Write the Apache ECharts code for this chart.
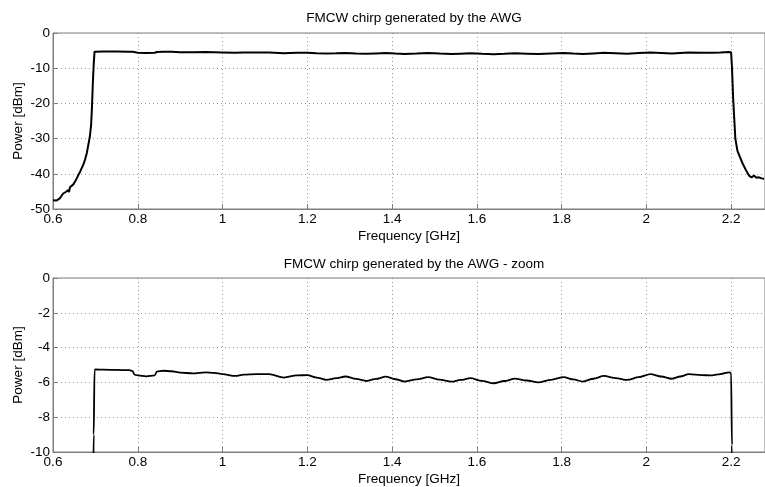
<!DOCTYPE html>
<html>
<head>
<meta charset="utf-8">
<script src="https://cdn.jsdelivr.net/npm/echarts@6/dist/echarts.min.js"></script>
<style>html,body{margin:0;padding:0;background:#fff}#c{width:765px;height:487px}</style>
</head>
<body>
<div id="c"></div>
<script>
const titles = ['FMCW chirp generated by the AWG', 'FMCW chirp generated by the AWG - zoom'];
const xLabel = 'Frequency [GHz]';
const yLabel = 'Power [dBm]';
const freq = [
0.600,0.604,0.608,0.612,0.616,0.620,0.624,0.628,0.631,0.634,0.636,0.638,0.640,0.644,0.648,0.652,0.656,0.660,0.664,0.668,0.672,0.676,0.680,0.683,0.687,0.690,0.692,0.694,0.696,0.698,
0.700,0.720,0.750,0.780,0.788,0.792,0.800,0.820,0.840,0.845,0.860,0.880,0.900,0.930,0.960,0.980,1.000,1.030,1.050,1.080,1.110,1.145,1.175,1.200,
1.222,1.245,1.268,1.290,1.315,1.340,1.362,1.385,1.408,1.430,1.458,1.485,1.512,1.540,1.562,1.585,1.612,1.640,1.665,1.690,1.718,1.745,1.775,1.805,1.828,1.850,1.875,1.900,1.928,1.955,1.982,2.010,2.035,2.060,2.080,2.100,2.130,2.155,2.175,2.195,2.200,
2.202,2.205,2.210,2.215,2.220,2.227,2.233,2.238,2.243,2.248,2.254,2.260,2.266,2.272,2.278
];
const power = [
-47.5,-47.9,-47.6,-47.9,-47.0,-46.3,-45.6,-46.0,-45.1,-45.4,-44.6,-45.2,-43.8,-43.4,-43.0,-42.2,-41.3,-40.3,-39.4,-38.3,-37.3,-35.8,-34.0,-32.0,-29.4,-26.0,-21.0,-14.3,-9.0,-5.3,
-5.25,-5.27,-5.28,-5.30,-5.35,-5.55,-5.60,-5.65,-5.60,-5.38,-5.33,-5.36,-5.44,-5.48,-5.42,-5.45,-5.52,-5.63,-5.55,-5.52,-5.53,-5.72,-5.60,-5.58,
-5.72,-5.85,-5.76,-5.66,-5.80,-5.92,-5.80,-5.67,-5.82,-5.95,-5.83,-5.70,-5.84,-5.96,-5.86,-5.76,-5.91,-6.05,-5.92,-5.78,-5.89,-6.00,-5.85,-5.70,-5.83,-5.95,-5.79,-5.63,-5.75,-5.86,-5.70,-5.53,-5.66,-5.79,-5.66,-5.53,-5.58,-5.60,-5.52,-5.42,-5.45,
-9.6,-19.0,-30.0,-33.5,-35.0,-37.0,-38.5,-39.6,-40.6,-41.0,-40.5,-41.1,-41.0,-41.3,-41.4
];
const yTicks1 = [-50, 0, 10];
const yTicks2 = [-10, 0, 2];
const xTicks = [0.6, 2.28, 0.2];

const data = freq.map((f, i) => [f, power[i]]);
const font = 'Liberation Sans, Arial, sans-serif';
const fs = 13.5;
const chart = echarts.init(document.getElementById('c'), null, {renderer: 'canvas'});
function xAx(gi) {
  return {
    type: 'value', gridIndex: gi, min: xTicks[0], max: xTicks[1], interval: xTicks[2],
    name: xLabel, nameLocation: 'middle', nameGap: 20, nameMoveOverlap: false,
    nameTextStyle: {color: '#000', fontFamily: font, fontSize: fs},
    axisLine: {show: true, onZero: false, lineStyle: {color: '#7f7f7f'}},
    axisTick: {show: true, inside: true, length: 5, lineStyle: {color: '#7f7f7f'}},
    axisLabel: {color: '#000', fontFamily: font, fontSize: fs, margin: 3, showMaxLabel: false},
    splitLine: {show: true, lineStyle: {color: '#9a9a9a', type: [1, 3], width: 1}}
  };
}
function yAx(gi, t) {
  return {
    type: 'value', gridIndex: gi, min: t[0], max: t[1], interval: t[2],
    name: yLabel, nameLocation: 'middle', nameGap: 28, nameMoveOverlap: false,
    nameTextStyle: {color: '#000', fontFamily: font, fontSize: fs},
    axisLine: {show: true, lineStyle: {color: '#7f7f7f'}},
    axisTick: {show: true, inside: true, length: 5, lineStyle: {color: '#7f7f7f'}},
    axisLabel: {color: '#000', fontFamily: font, fontSize: fs, margin: 3},
    splitLine: {show: true, lineStyle: {color: '#9a9a9a', type: [1, 3], width: 1}}
  };
}
chart.setOption({
  backgroundColor: '#fff',
  animation: false,
  title: [
    {text: titles[0], left: 409, top: 6, textAlign: 'center', textStyle: {fontFamily: font, fontSize: fs, fontWeight: 'normal', color: '#000'}},
    {text: titles[1], left: 409, top: 252, textAlign: 'center', textStyle: {fontFamily: font, fontSize: fs, fontWeight: 'normal', color: '#000'}}
  ],
  grid: [
    {left: 53, top: 33, right: 0, height: 176, show: true, borderColor: '#7f7f7f', borderWidth: 1, containLabel: false, outerBoundsMode: 'none'},
    {left: 53, top: 278, right: 0, height: 174, show: true, borderColor: '#7f7f7f', borderWidth: 1, containLabel: false, outerBoundsMode: 'none'}
  ],
  xAxis: [xAx(0), xAx(1)],
  yAxis: [yAx(0, yTicks1), yAx(1, yTicks2)],
  series: [
    {type: 'line', xAxisIndex: 0, yAxisIndex: 0, data: data, showSymbol: false, clip: true,
     lineStyle: {color: '#000', width: 2}},
    {type: 'line', xAxisIndex: 1, yAxisIndex: 1, data: data, showSymbol: false, clip: true,
     smooth: 0.3, smoothMonotone: 'x',
     lineStyle: {color: '#000', width: 1.8}}
  ]
});
</script>
</body>
</html>
